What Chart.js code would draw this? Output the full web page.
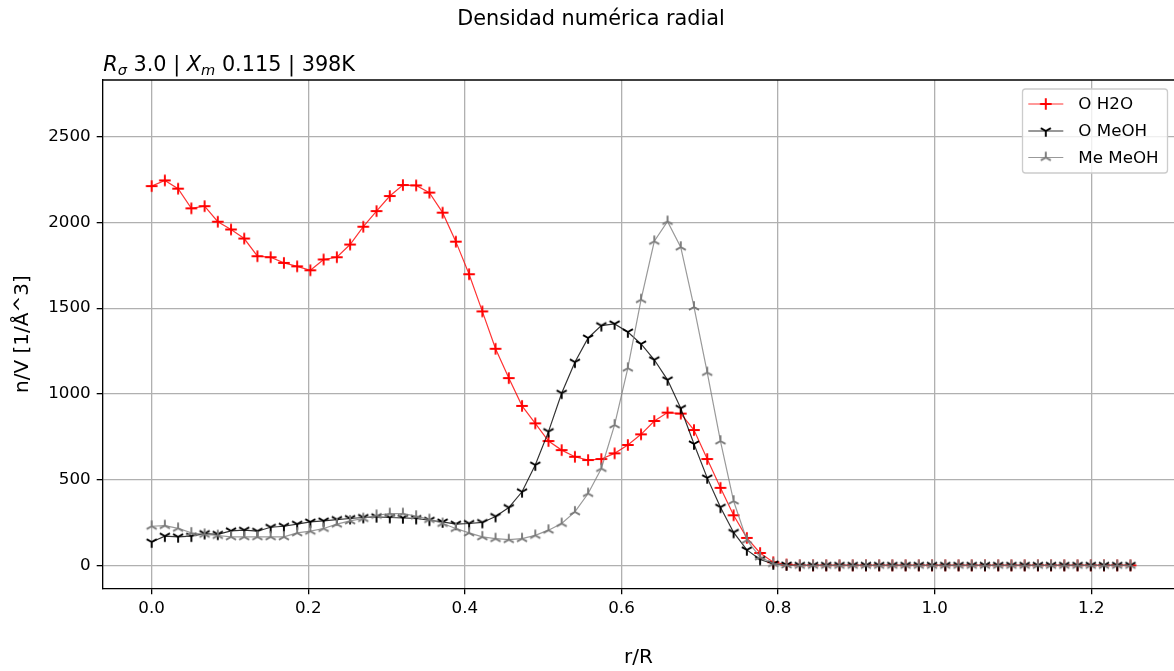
<!DOCTYPE html>
<html><head><meta charset="utf-8">
<script src="https://cdn.jsdelivr.net/npm/chart.js@4.4.1/dist/chart.umd.min.js"></script>
<style>html,body{margin:0;padding:0;background:#fff;}canvas{display:block;}</style>
</head><body>
<canvas id="c" width="1174" height="671"></canvas>
<script>
// ---- data ----
const rR = [0.0000,0.0169,0.0338,0.0507,0.0676,0.0845,0.1014,0.1182,0.1351,0.1520,
0.1689,0.1858,0.2027,0.2196,0.2365,0.2534,0.2703,0.2872,0.3041,0.3209,
0.3378,0.3547,0.3716,0.3885,0.4054,0.4223,0.4392,0.4561,0.4730,0.4899,
0.5068,0.5236,0.5405,0.5574,0.5743,0.5912,0.6081,0.6250,0.6419,0.6588,
0.6757,0.6926,0.7095,0.7264,0.7432,0.7601,0.7770,0.7939,0.8108,0.8277,
0.8446,0.8615,0.8784,0.8953,0.9122,0.9291,0.9459,0.9628,0.9797,0.9966,
1.0135,1.0304,1.0473,1.0642,1.0811,1.0980,1.1149,1.1318,1.1486,1.1655,
1.1824,1.1993,1.2162,1.2331,1.2500];
const oH2O = [2212,2245,2197,2082,2095,2004,1959,1906,1803,1797,
1764,1744,1721,1784,1797,1871,1975,2066,2154,2218,
2216,2174,2057,1888,1698,1481,1263,1092,930,828,
725,672,633,614,620,653,702,764,842,891,
885,789,620,452,292,160,72,18,5,0,
0,0,0,0,0,0,0,0,0,0,
0,0,0,0,0,0,0,0,0,0,
0,0,0,0,0];
const oMeOH = [136,170,166,170,185,181,201,205,199,222,
228,240,253,259,267,273,279,283,279,277,
273,263,253,240,244,250,285,337,429,585,
780,1004,1185,1326,1398,1408,1361,1291,1199,1082,
916,708,510,339,192,90,34,8,2,0,
0,0,0,0,0,0,0,0,0,0,
0,0,0,0,0,0,0,0,0,0,
0,0,0,0,0];
const meMeOH = [228,232,216,189,181,174,166,166,166,166,
166,189,199,215,240,259,273,292,302,302,
287,267,244,215,189,166,156,150,156,175,
205,244,312,419,565,819,1150,1550,1890,2006,
1856,1507,1125,725,375,146,49,10,2,0,
0,0,0,0,0,0,0,0,0,0,
0,0,0,0,0,0,0,0,0,0,
0,0,0,0,0];
const seriesNames = ['O H2O','O MeOH','Me MeOH'];
const xTicks = [0.0,0.2,0.4,0.6,0.8,1.0,1.2];
const yTicks = [0,500,1000,1500,2000,2500];
const chartTitle = 'Densidad numérica radial';
const subtitleParts = [
  {t:'R', it:true}, {t:'σ', it:true, sub:true}, {t:' 3.0 | '},
  {t:'X', it:true}, {t:'m', it:true, sub:true}, {t:' 0.115 | 398K'}
];
const xLabel = 'r/R';
const yLabel = 'n/V [1/Å^3]';

// ---- styling ----
const FONT = "'DejaVu Sans'";
Chart.defaults.font.family = FONT;
Chart.defaults.color = '#000';

function marker(kind, color){
  const s = 16, c = document.createElement('canvas');
  c.width = s; c.height = s;
  const g = c.getContext('2d');
  g.strokeStyle = color; g.lineWidth = 1.9; g.lineCap = 'butt';
  const cx = s/2, cy = s/2, r = 5.8;
  g.beginPath();
  if (kind === 'plus') {
    g.moveTo(cx-r, cy); g.lineTo(cx+r, cy);
    g.moveTo(cx, cy-r); g.lineTo(cx, cy+r);
  } else {
    const angs = kind === 'tridown' ? [90,210,330] : [270,30,150];
    for (const a of angs) {
      const t = a*Math.PI/180;
      g.moveTo(cx, cy); g.lineTo(cx + r*Math.cos(t), cy + r*Math.sin(t));
    }
  }
  g.stroke();
  return c;
}
const styles = [
  {line:'rgba(255,0,0,0.8)', mk: marker('plus','#ff0000')},
  {line:'rgba(0,0,0,0.8)', mk: marker('tridown','#000000')},
  {line:'rgba(128,128,128,0.8)', mk: marker('triup','#7a7a7a')}
];
const seriesData = [oH2O, oMeOH, meMeOH];

const datasets = seriesData.map((arr, k) => ({
  label: seriesNames[k],
  data: arr.map((v, i) => ({x: rR[i], y: v})),
  borderColor: styles[k].line,
  backgroundColor: styles[k].line,
  borderWidth: 1.2,
  pointStyle: styles[k].mk,
  pointRadius: 5,
  pointHoverRadius: 5,
  tension: 0,
  order: 3 - k
}));

const decor = {
  id: 'decor',
  afterDraw(chart) {
    const ctx = chart.ctx, a = chart.chartArea;
    ctx.save();
    // top spine
    ctx.strokeStyle = '#000'; ctx.lineWidth = 1.33;
    ctx.beginPath(); ctx.moveTo(a.left, a.top); ctx.lineTo(a.right, a.top); ctx.stroke();
    // axes title (left aligned, mathtext-like)
    let x = a.left + 0.5; const base = 70.7;
    ctx.fillStyle = '#000'; ctx.textBaseline = 'alphabetic'; ctx.textAlign = 'left';
    for (const p of subtitleParts) {
      const size = p.sub ? 14.6 : 20.8;
      ctx.font = (p.it ? 'italic ' : '') + size + 'px ' + FONT;
      ctx.fillText(p.t, x, base + (p.sub ? 4 : 0));
      x += ctx.measureText(p.t).width;
    }
    // legend
    const bx = 1022.5, by = 89, bw = 145, bh = 84, rad = 3;
    ctx.beginPath();
    ctx.moveTo(bx+rad, by); ctx.lineTo(bx+bw-rad, by); ctx.quadraticCurveTo(bx+bw, by, bx+bw, by+rad);
    ctx.lineTo(bx+bw, by+bh-rad); ctx.quadraticCurveTo(bx+bw, by+bh, bx+bw-rad, by+bh);
    ctx.lineTo(bx+rad, by+bh); ctx.quadraticCurveTo(bx, by+bh, bx, by+bh-rad);
    ctx.lineTo(bx, by+rad); ctx.quadraticCurveTo(bx, by, bx+rad, by);
    ctx.closePath();
    ctx.fillStyle = 'rgba(255,255,255,0.8)'; ctx.fill();
    ctx.strokeStyle = '#cccccc'; ctx.lineWidth = 1.33; ctx.stroke();
    const rows = [104, 131, 157.5];
    ctx.font = '16.7px ' + FONT; ctx.textBaseline = 'middle';
    chart.data.datasets.forEach((ds, k) => {
      const y = rows[k];
      ctx.strokeStyle = ds.borderColor; ctx.lineWidth = 1.2;
      ctx.beginPath(); ctx.moveTo(1028.3, y); ctx.lineTo(1063.3, y); ctx.stroke();
      const m = ds.pointStyle;
      ctx.drawImage(m, 1045.8 - m.width/2, y - m.height/2);
      ctx.fillStyle = '#000';
      ctx.fillText(ds.label, 1078.3, y + 1);
    });
    ctx.restore();
  }
};

const gridCommon = {color:'#b0b0b0', lineWidth:1.3, tickColor:'#000', tickWidth:1.3, tickLength:6, drawTicks:true};

new Chart(document.getElementById('c'), {
  type: 'line',
  data: { datasets },
  options: {
    responsive: false,
    animation: false,
    events: [],
    devicePixelRatio: 1,
    layout: { autoPadding: false, padding: {left: 8, right: 0, top: 0, bottom: 0} },
    plugins: {
      legend: { display: false },
      tooltip: { enabled: false },
      title: {
        display: true, text: chartTitle, color: '#000',
        font: {size: 20.8, weight: 'normal', family: FONT},
        padding: {top: 7, bottom: 48}
      }
    },
    scales: {
      x: {
        type: 'linear', min: -0.0625, max: 1.3056,
        afterBuildTicks: s => { s.ticks = xTicks.map(v => ({value: v})); },
        afterFit: s => { s.height = 82.7; },
        ticks: { callback: v => Number(v).toFixed(1), font: {size: 16.7}, color: '#000', padding: 4, maxRotation: 0, autoSkip: false },
        grid: gridCommon,
        border: {display: true, color: '#000', width: 1.33},
        title: { display: true, text: xLabel, font: {size: 20}, color: '#000', padding: {top: 0, bottom: 1} }
      },
      y: {
        type: 'linear', min: -134, max: 2831,
        afterBuildTicks: s => { s.ticks = yTicks.map(v => ({value: v})); },
        afterFit: s => { s.width = 94.7; },
        ticks: { callback: v => String(v), font: {size: 16.7}, color: '#000', padding: 6, autoSkip: false },
        grid: gridCommon,
        border: {display: true, color: '#000', width: 1.33},
        title: { display: true, text: yLabel, font: {size: 20}, color: '#000', padding: {top: 2.6, bottom: 0} }
      }
    }
  },
  plugins: [decor]
});
</script>
</body></html>
